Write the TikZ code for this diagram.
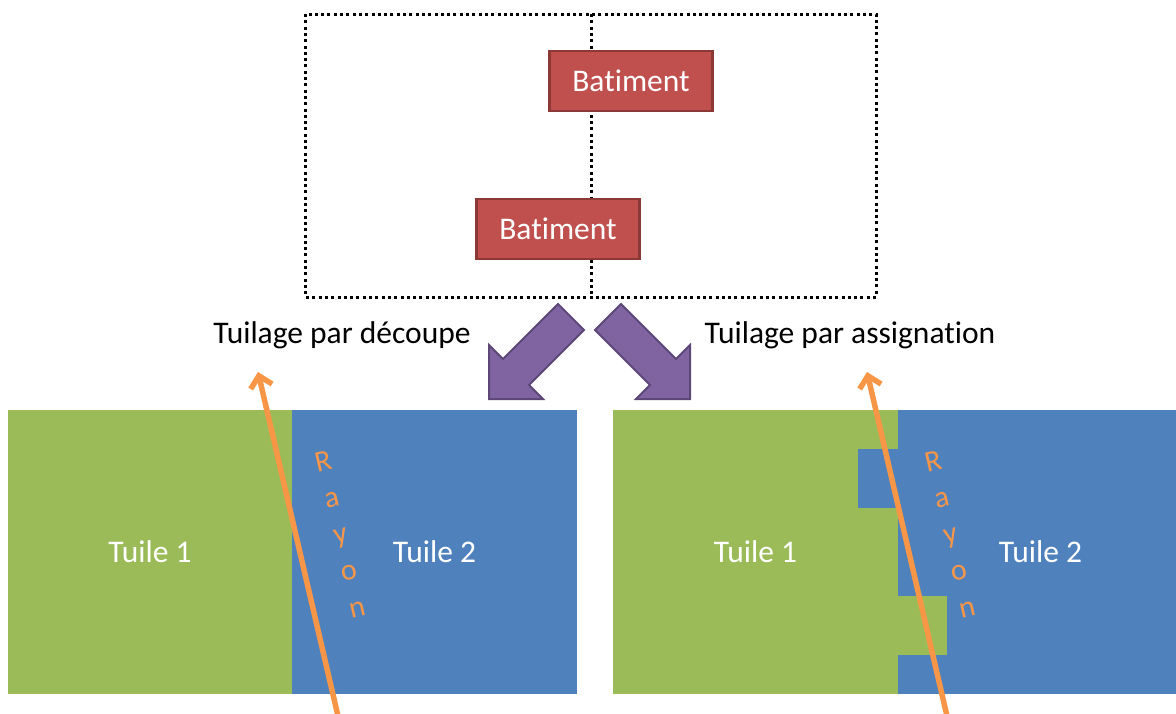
\documentclass[tikz,border=0pt]{standalone}
\usepackage{fontspec}
\setmainfont{Carlito}[Ligatures=NoCommon]
\usetikzlibrary{arrows.meta}
\definecolor{bred}{HTML}{C0504D}
\definecolor{bredd}{HTML}{8C3836}
\definecolor{tgreen}{HTML}{9BBB59}
\definecolor{tblue}{HTML}{4F81BD}
\definecolor{ppl}{HTML}{8064A2}
\definecolor{ppld}{HTML}{5C4776}
\definecolor{raycol}{HTML}{F79646}
\tikzset{
  framedots/.style={line width=3pt, dash pattern=on 3pt off 3.3pt},
  batbox/.style={fill=bred, draw=bredd, line width=2.5pt, text=white, minimum width=163pt, minimum height=60pt, inner sep=0pt, font=\fontsize{31.5}{36}\selectfont},
  tile/.style={minimum height=284pt, inner sep=0pt, text=white, font=\fontsize{31.5}{36}\selectfont},
  lbl/.style={font=\fontsize{31.5}{36}\selectfont, inner sep=0pt},
  bigarrow/.style={fill=ppl, draw=ppld, line width=2pt, line join=miter},
  rayline/.style={draw=raycol, line width=5.5pt, -{Straight Barb[length=11pt,width=22pt]}},
  raytext/.style={rotate=13, text=raycol, align=center, inner sep=0pt, font=\fontsize{30}{37.5}\selectfont}
}
\begin{document}
\begin{tikzpicture}[x=1pt,y=-1pt]
\useasboundingbox (0,0) rectangle (1176,713);
% dotted frame and split line
\draw[framedots] (305.5,14) rectangle (876,297);
\draw[framedots] (591,14) -- (591,297);
% buildings
\node[batbox] (b1) at (631,81) {Batiment};
\node[batbox] (b2) at (558,229) {Batiment};
% labels
\node[lbl] (t1) at (342,335) {Tuilage par découpe};
\node[lbl] (t2) at (850,335) {Tuilage par assignation};
% purple block arrows
\draw[bigarrow] (489,399) -- (489,345) -- (503,359) -- (558,304) -- (584,330) -- (529,385) -- (543,399) -- cycle;
\draw[bigarrow] (690,399) -- (690,345) -- (676,359) -- (621,304) -- (595,330) -- (650,385) -- (636,399) -- cycle;
% left tiling
\node[tile, fill=tgreen, minimum width=284pt] (l1) at (150,552) {Tuile 1};
\node[tile, fill=tblue, minimum width=285pt] (l2) at (434.5,552) {Tuile 2};
% right tiling
\node[tile, fill=tgreen, minimum width=285pt] (r1) at (755.5,552) {Tuile 1};
\node[tile, fill=tblue, minimum width=285pt] (r2) at (1040.5,552) {Tuile 2};
\fill[tblue] (858,449) rectangle (899,508);
\fill[tgreen] (897,596) rectangle (947,655);
% rays
\coordinate (ls) at (338,716);
\coordinate (le) at (258,372);
\coordinate (rs) at (947,716);
\coordinate (re) at (867,372);
\draw[rayline] (ls) -- (le);
\draw[rayline] (rs) -- (re);
\node[raytext] (ray1) at (340,534) {R\\a\\y\\o\\n};
\node[raytext] (ray2) at (950,534) {R\\a\\y\\o\\n};
\end{tikzpicture}
\end{document}
